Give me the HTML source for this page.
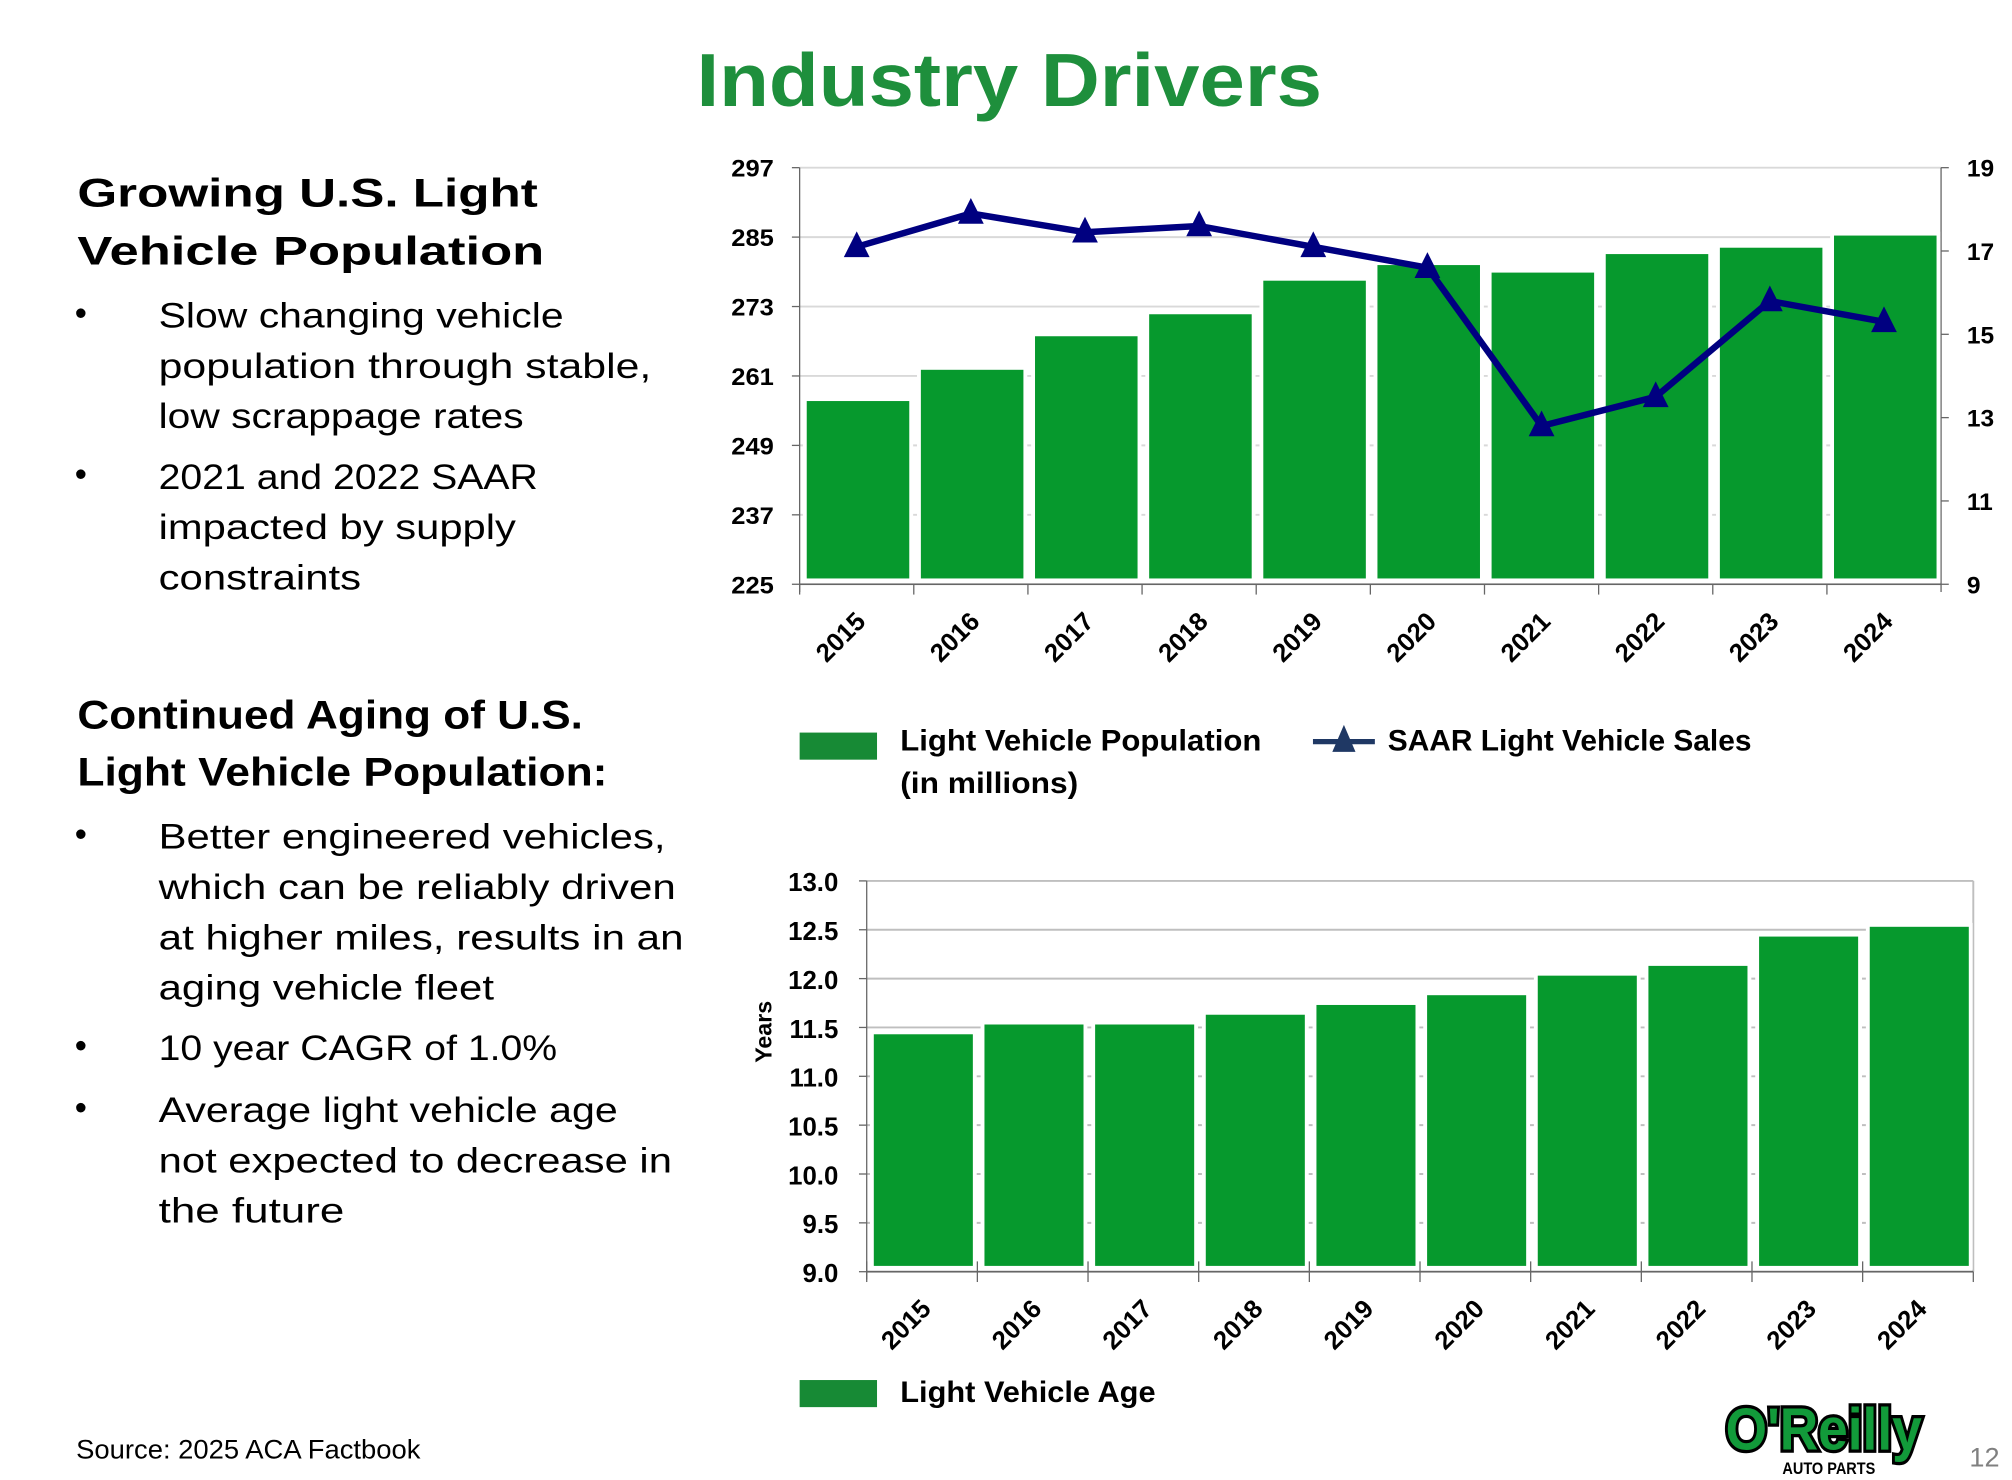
<!DOCTYPE html>
<html><head><meta charset="utf-8"><style>
html,body{margin:0;padding:0;background:#fff;}
svg{display:block;}
text{font-family:"Liberation Sans",sans-serif;}
</style></head><body>
<svg id="page" width="2012" height="1480" viewBox="0 0 1560 1147.5" preserveAspectRatio="none" xmlns="http://www.w3.org/2000/svg">
<text x="540" y="82" font-size="58" font-weight="bold" fill="#1e8f3c" textLength="485" lengthAdjust="spacingAndGlyphs">Industry Drivers</text>

<g fill="#000">
<text font-weight="bold" font-size="31" x="60" y="160" textLength="357" lengthAdjust="spacingAndGlyphs">Growing U.S. Light</text>
<text font-weight="bold" font-size="31" x="60" y="205" textLength="362" lengthAdjust="spacingAndGlyphs">Vehicle Population</text>
<g font-size="27">
<text x="58" y="252">•</text>
<text x="123" y="254" textLength="314" lengthAdjust="spacingAndGlyphs">Slow changing vehicle</text>
<text x="123" y="293" textLength="382" lengthAdjust="spacingAndGlyphs">population through stable,</text>
<text x="123" y="332" textLength="283" lengthAdjust="spacingAndGlyphs">low scrappage rates</text>
<text x="58" y="377">•</text>
<text x="123" y="379" textLength="294" lengthAdjust="spacingAndGlyphs">2021 and 2022 SAAR</text>
<text x="123" y="418" textLength="277" lengthAdjust="spacingAndGlyphs">impacted by supply</text>
<text x="123" y="457" textLength="157" lengthAdjust="spacingAndGlyphs">constraints</text>
</g>
<text font-weight="bold" font-size="31" x="60" y="565" textLength="392" lengthAdjust="spacingAndGlyphs">Continued Aging of U.S.</text>
<text font-weight="bold" font-size="31" x="60" y="609" textLength="411" lengthAdjust="spacingAndGlyphs">Light Vehicle Population:</text>
<g font-size="27">
<text x="58" y="656">•</text>
<text x="123" y="658" textLength="393" lengthAdjust="spacingAndGlyphs">Better engineered vehicles,</text>
<text x="123" y="697" textLength="401" lengthAdjust="spacingAndGlyphs">which can be reliably driven</text>
<text x="123" y="736" textLength="407" lengthAdjust="spacingAndGlyphs">at higher miles, results in an</text>
<text x="123" y="775" textLength="260" lengthAdjust="spacingAndGlyphs">aging vehicle fleet</text>
<text x="58" y="820">•</text>
<text x="123" y="822" textLength="309" lengthAdjust="spacingAndGlyphs">10 year CAGR of 1.0%</text>
<text x="58" y="868">•</text>
<text x="123" y="870" textLength="356" lengthAdjust="spacingAndGlyphs">Average light vehicle age</text>
<text x="123" y="909" textLength="398" lengthAdjust="spacingAndGlyphs">not expected to decrease in</text>
<text x="123" y="948" textLength="144" lengthAdjust="spacingAndGlyphs">the future</text>
</g>
<text x="59" y="1131" font-size="21" textLength="267" lengthAdjust="spacingAndGlyphs">Source:  2025 ACA Factbook</text>
</g>

<g id="chart1"></g>
<g>
<rect x="620" y="568" width="60" height="21" fill="#178a35"/>
<text x="698" y="582" font-size="23" font-weight="bold" textLength="280" lengthAdjust="spacingAndGlyphs">Light Vehicle Population</text>
<text x="698" y="615" font-size="23" font-weight="bold" textLength="138" lengthAdjust="spacingAndGlyphs">(in millions)</text>
<line x1="1018" y1="575" x2="1066" y2="575" stroke="#1f3864" stroke-width="4"/>
<polygon points="1042,562 1051,583 1033,583" fill="#1f3864"/>
<text x="1076" y="582" font-size="23" font-weight="bold" textLength="282" lengthAdjust="spacingAndGlyphs">SAAR Light Vehicle Sales</text>
</g>

<g id="chart2"></g>
<g>
<rect x="620" y="1070" width="60" height="21" fill="#178a35"/>
<text x="698" y="1087" font-size="23" font-weight="bold" textLength="198" lengthAdjust="spacingAndGlyphs">Light Vehicle Age</text>
</g>

<g>
<text x="1338" y="1124" font-size="46" font-weight="bold" fill="#129a3a" stroke="#000" stroke-width="5" paint-order="stroke" textLength="152" lengthAdjust="spacingAndGlyphs">O'Reilly</text>
<text x="1382" y="1143" font-size="13" font-weight="bold" fill="#000" textLength="72" lengthAdjust="spacingAndGlyphs">AUTO PARTS</text>
</g>
<text x="1527" y="1137" font-size="21" fill="#808080">12</text>
</svg>
<script>
const years = ["2015","2016","2017","2018","2019","2020","2021","2022","2023","2024"];
const population = [257, 262.4, 268.2, 272, 277.8, 280.5, 279.2, 282.4, 283.5, 285.6];
const saar = [17.1, 17.9, 17.45, 17.6, 17.1, 16.6, 12.8, 13.5, 15.8, 15.3];
const popTicks = [225, 237, 249, 261, 273, 285, 297];
const saarTicks = [9, 11, 13, 15, 17, 19];
const age = [11.45, 11.55, 11.55, 11.65, 11.75, 11.85, 12.05, 12.15, 12.45, 12.55];
const ageTicks = ["9.0","9.5","10.0","10.5","11.0","11.5","12.0","12.5","13.0"];

const NS = "http://www.w3.org/2000/svg";
function mk(parent, tag, attrs, txt) {
  const e = document.createElementNS(NS, tag);
  for (const k in attrs) e.setAttribute(k, attrs[k]);
  if (txt !== undefined) e.textContent = txt;
  parent.appendChild(e);
  return e;
}

// Chart 1
(function(){
  const g = document.getElementById('chart1');
  const L = 620, R = 1505, T = 130, B = 453;
  const yL = v => B - (v - 225) / (297 - 225) * (B - T);
  const yR = v => B - (v - 9) / (19 - 9) * (B - T);
  const bw = (R - L) / years.length;
  const xc = i => L + bw * (i + 0.5);
  popTicks.forEach(t => {
    const gl = mk(g, 'line', {x1: L, x2: R, y1: yL(t), y2: yL(t), stroke: '#d9d9d9', 'stroke-width': 1.5});
    
    
    const tk = mk(g, 'line', {x1: L - 6, x2: L, y1: yL(t), y2: yL(t), stroke: '#666', 'stroke-width': 1});
    
    
    const lb = mk(g, 'text', {x: L - 20, y: yL(t) + 7, 'text-anchor': 'end', 'font-size': 19, 'font-weight': 'bold', textLength: 33, lengthAdjust: 'spacingAndGlyphs'}, String(t));
    
    
  });
  saarTicks.forEach(t => {
    const tk = mk(g, 'line', {x1: R, x2: R + 6, y1: yR(t), y2: yR(t), stroke: '#666', 'stroke-width': 1});
    
    
    const lb = mk(g, 'text', {x: R + 20, y: yR(t) + 7, 'font-size': 19, 'font-weight': 'bold'}, String(t));
    
    
  });
  mk(g, 'line', {x1: L, x2: L, y1: T, y2: B + 6, stroke: '#666', 'stroke-width': 1});
  mk(g, 'line', {x1: R, x2: R, y1: T, y2: B + 6, stroke: '#666', 'stroke-width': 1});
  population.forEach((v, i) => {
    const x = L + bw * i + 4;
    const r = mk(g, 'rect', {x: x, y: yL(v), width: bw - 6, height: B - 3 - yL(v), fill: '#06992d', stroke: '#fff', 'stroke-width': 3});
    
    
  });
  mk(g, 'line', {x1: L, x2: R, y1: B, y2: B, stroke: '#666', 'stroke-width': 1.2});
  years.forEach((y, i) => {
    mk(g, 'line', {x1: L + bw * i, x2: L + bw * i, y1: B, y2: B + 8, stroke: '#666'});
    const lb = mk(g, 'text', {x: xc(i) + 8, y: B + 30, 'text-anchor': 'end', 'font-size': 20, 'font-weight': 'bold', transform: 'rotate(-45 ' + (xc(i) + 8) + ' ' + (B + 30) + ')'}, y);
    
    
  });
  const pts = saar.map((v, i) => xc(i) + ',' + yR(v)).join(' ');
  const pl = mk(g, 'polyline', {points: pts, fill: 'none', stroke: '#000080', 'stroke-width': 5, 'stroke-linejoin': 'round'});
  
  
  saar.forEach((v, i) => {
    const x = xc(i), y = yR(v);
    const m = mk(g, 'polygon', {points: (x) + ',' + (y - 12) + ' ' + (x + 10) + ',' + (y + 8) + ' ' + (x - 10) + ',' + (y + 8), fill: '#000080'});
    
    
  });
})();

// Chart 2
(function(){
  const g = document.getElementById('chart2');
  const L = 672, R = 1530, T = 683, B = 986;
  const y = v => B - (v - 9) / (13 - 9) * (B - T);
  const bw = (R - L) / years.length;
  const xc = i => L + bw * (i + 0.5);
  ageTicks.forEach(t => {
    const v = parseFloat(t);
    const gl = mk(g, 'line', {x1: L, x2: R, y1: y(v), y2: y(v), stroke: '#bfbfbf', 'stroke-width': 1.5});
    
    
    mk(g, 'line', {x1: L - 6, x2: L, y1: y(v), y2: y(v), stroke: '#666'});
    const lb = mk(g, 'text', {x: L - 22, y: y(v) + 8, 'text-anchor': 'end', 'font-size': 20, 'font-weight': 'bold'}, t);
    
    
  });
  mk(g, 'line', {x1: L, x2: L, y1: T, y2: B + 6, stroke: '#666'});
  mk(g, 'line', {x1: R, x2: R, y1: T, y2: B, stroke: '#bfbfbf', 'stroke-width': 1.5});
  age.forEach((v, i) => {
    const x = L + bw * i + 4;
    const r = mk(g, 'rect', {x: x, y: y(v), width: bw - 6, height: B - 3 - y(v), fill: '#06992d', stroke: '#fff', 'stroke-width': 3});
    
    
  });
  mk(g, 'line', {x1: L, x2: R, y1: B, y2: B, stroke: '#666', 'stroke-width': 1.2});
  years.forEach((yr, i) => {
    mk(g, 'line', {x1: L + bw * i, x2: L + bw * i, y1: B - 8, y2: B + 8, stroke: '#666'});
    const lb = mk(g, 'text', {x: xc(i) + 8, y: B + 30, 'text-anchor': 'end', 'font-size': 20, 'font-weight': 'bold', transform: 'rotate(-45 ' + (xc(i) + 8) + ' ' + (B + 30) + ')'}, yr);
    
    
  });
  mk(g, 'line', {x1: R, x2: R, y1: B, y2: B + 8, stroke: '#666'});
  const yt = mk(g, 'text', {x: 598, y: 800, 'text-anchor': 'middle', 'font-size': 18, 'font-weight': 'bold', transform: 'rotate(-90 598 800)'}, 'Years');
  
  
})();
</script>
</body></html>
